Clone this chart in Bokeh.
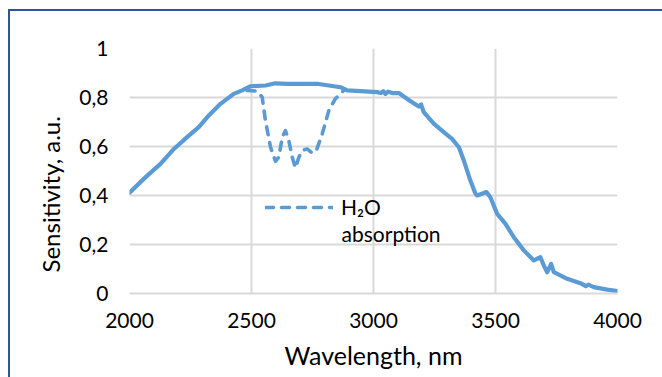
from bokeh.plotting import figure
from bokeh.models import (Range1d, FixedTicker, CustomJSTickFormatter, Legend, LegendItem,
                          Label, Title, InlineStyleSheet)
from bokeh.embed import file_html
from bokeh.resources import INLINE

# ---- data ----
wl_sens = [2000, 2066, 2127, 2182, 2236, 2284, 2325, 2373, 2427, 2462, 2496, 2557, 2598,
           2646, 2769, 2865, 2892, 2947, 3015, 3030, 3040, 3049, 3060, 3077, 3104, 3124,
           3152, 3186, 3195, 3206, 3247, 3288, 3322, 3350, 3370, 3397, 3418, 3425, 3463,
           3479, 3507, 3541, 3575, 3616, 3657, 3684, 3698, 3712, 3728, 3739, 3794, 3848,
           3870, 3880, 3903, 3958, 4000]
sens = [0.411, 0.475, 0.529, 0.590, 0.638, 0.679, 0.727, 0.774, 0.815, 0.829, 0.846, 0.849,
        0.858, 0.856, 0.856, 0.842, 0.829, 0.826, 0.822, 0.818, 0.826, 0.815, 0.824, 0.818,
        0.818, 0.804, 0.785, 0.763, 0.772, 0.740, 0.693, 0.659, 0.631, 0.597, 0.543, 0.461,
        0.407, 0.400, 0.414, 0.393, 0.325, 0.284, 0.230, 0.176, 0.135, 0.148, 0.114, 0.087,
        0.121, 0.087, 0.060, 0.042, 0.030, 0.036, 0.026, 0.016, 0.010]

wl_h2o = [2482, 2523, 2544, 2557, 2578, 2598, 2612, 2626, 2639, 2653, 2667, 2680, 2694,
          2708, 2728, 2749, 2766, 2790, 2817, 2844, 2878]
h2o = [0.829, 0.826, 0.801, 0.706, 0.597, 0.540, 0.556, 0.638, 0.665, 0.624, 0.556, 0.513,
       0.556, 0.584, 0.590, 0.573, 0.584, 0.652, 0.747, 0.795, 0.829]

x_ticks = [2000, 2500, 3000, 3500, 4000]
y_ticks = [0, 0.2, 0.4, 0.6, 0.8, 1.0]

FONT = "Lato"
BLUE = "#5B9BD5"
GRID = "#D9D9D9"

border_css = InlineStyleSheet(css="""
:host::after {
  content: '';
  position: absolute;
  left: 8px; top: 9px; right: 0; bottom: 0;
  border-left: 2px solid #2F5597;
  border-top: 2px solid #2F5597;
  pointer-events: none;
}
""")

p = figure(width=662, height=377, output_backend="svg", toolbar_location=None,
           x_range=Range1d(2000, 4000), y_range=Range1d(0, 1),
           min_border_left=129, min_border_right=45, min_border_top=48, min_border_bottom=84)
p.stylesheets = [border_css]
p.outline_line_color = None
p.background_fill_color = "white"
p.border_fill_color = "white"

sol = p.line(wl_sens, sens, line_color=BLUE, line_width=4.2, line_join="round", line_cap="round")
dash = p.line(wl_h2o, h2o, line_color=BLUE, line_width=3.6, line_dash="8 8",
              line_cap="round", line_join="round")

# axes
p.xaxis.ticker = FixedTicker(ticks=x_ticks)
p.yaxis.ticker = FixedTicker(ticks=y_ticks)
p.yaxis.formatter = CustomJSTickFormatter(
    code="return tick.toFixed(1).replace('.', ',').replace(',0', '');")
for ax in (p.xaxis, p.yaxis):
    ax.major_tick_line_color = None
    ax.minor_tick_line_color = None
    ax.major_tick_out = 0
    ax.major_tick_in = 0
    ax.major_label_text_font = FONT
    ax.major_label_text_font_size = "21px"
    ax.major_label_text_color = "black"
p.xaxis.axis_line_color = GRID
p.xaxis.axis_line_width = 2
p.yaxis.axis_line_color = None
p.xaxis.major_label_standoff = 19
p.yaxis.major_label_standoff = 21

p.xaxis.axis_label = "Wavelength, nm"
p.xaxis.axis_label_text_font = FONT
p.xaxis.axis_label_text_font_size = "25px"
p.xaxis.axis_label_text_font_style = "normal"
p.xaxis.axis_label_text_color = "black"
p.xaxis.axis_label_standoff = 9

p.xgrid.grid_line_color = GRID
p.ygrid.grid_line_color = GRID
p.xgrid.grid_line_width = 2
p.ygrid.grid_line_width = 2

# y-axis title (sits lower than the frame centre, as in the reference)
ytitle = Title(text="Sensitivity, a.u.", align="left", offset=21, standoff=24,
               text_font=FONT, text_font_size="24px", text_font_style="normal",
               text_color="black")
p.add_layout(ytitle, "left")

# legend: dashed sample + "H2O", second line of the label below
leg = Legend(items=[LegendItem(label="H\u2082O", renderers=[dash])],
             location=(136, 74), padding=0, margin=0, glyph_width=68, glyph_height=20,
             label_standoff=8, background_fill_alpha=0, border_line_alpha=0,
             label_text_font=FONT, label_text_font_size="21px", label_text_color="black")
p.add_layout(leg)
p.add_layout(Label(x=2869, y=0.246, text="absorption", text_align="left",
                   text_baseline="middle", text_font=FONT, text_font_size="21px",
                   text_color="black"))

open("out.html", "w").write(file_html(p, INLINE))
